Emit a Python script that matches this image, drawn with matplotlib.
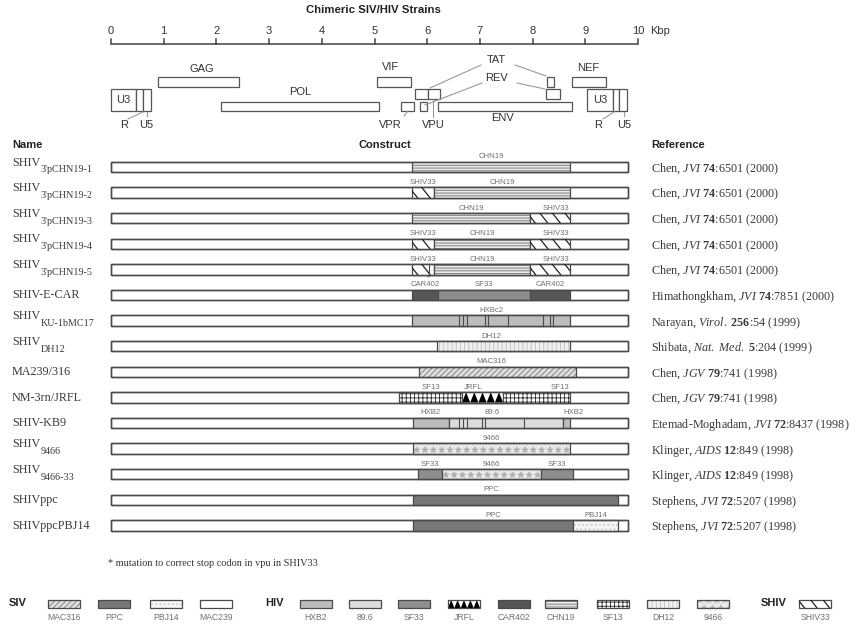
import matplotlib
matplotlib.use('Agg')
import numpy as np
import matplotlib.pyplot as plt
from matplotlib.patches import Rectangle, Polygon

plt.rcParams['hatch.linewidth'] = 0.6
plt.rcParams['mathtext.fontset'] = 'custom'
plt.rcParams['mathtext.rm'] = 'Liberation Serif'
plt.rcParams['mathtext.it'] = 'Liberation Serif:italic'
plt.rcParams['mathtext.bf'] = 'Liberation Serif:bold'

# ------------------------------------------------------------------ data
title = 'Chimeric SIV/HIV Strains'
axis_ticks = list(range(0, 11))
genome_length = 9.81

gene_names = ['U3', 'R', 'U5', 'GAG', 'POL', 'VIF', 'VPR', 'TAT', 'REV', 'VPU',
              'ENV', 'TAT', 'REV', 'NEF', 'U3', 'R', 'U5']
gene_start = [0.00, 0.47, 0.61, 0.89, 2.09, 5.05, 5.50, 5.77, 6.02, 5.86,
              6.20, 8.27, 8.25, 8.75, 9.03, 9.53, 9.64]
gene_end = [0.47, 0.61, 0.76, 2.43, 5.09, 5.69, 5.75, 6.02, 6.24, 6.00,
            8.75, 8.41, 8.52, 9.39, 9.53, 9.64, 9.79]
gene_level = ['ltr', 'ltr', 'ltr', 'a', 'c', 'a', 'c', 'b', 'b', 'c',
              'c', 'a', 'b', 'a', 'ltr', 'ltr', 'ltr']

names_main = ['SHIV', 'SHIV', 'SHIV', 'SHIV', 'SHIV', 'SHIV-E-CAR', 'SHIV', 'SHIV',
              'MA239/316', 'NM-3rn/JRFL', 'SHIV-KB9', 'SHIV', 'SHIV', 'SHIVppc',
              'SHIVppcPBJ14']
names_sub = ["3'pCHN19-1", "3'pCHN19-2", "3'pCHN19-3", "3'pCHN19-4", "3'pCHN19-5",
             '', 'KU-1bMC17', 'DH12', '', '', '', '9466', '9466-33', '', '']

row_segments = [
    [(5.71, 8.71, 'CHN19', 'CHN19')],
    [(5.71, 6.13, 'SHIV33', 'SHIV33'), (6.13, 8.71, 'CHN19', 'CHN19')],
    [(5.71, 7.95, 'CHN19', 'CHN19'), (7.95, 8.71, 'SHIV33', 'SHIV33')],
    [(5.71, 6.13, 'SHIV33', 'SHIV33'), (6.13, 7.95, 'CHN19', 'CHN19'),
     (7.95, 8.71, 'SHIV33', 'SHIV33')],
    [(5.71, 6.13, 'SHIV33', 'SHIV33'), (6.13, 7.95, 'CHN19', 'CHN19'),
     (7.95, 8.71, 'SHIV33', 'SHIV33')],
    [(5.71, 6.20, 'CAR402', 'CAR402'), (6.20, 7.95, 'SF33', 'SF33'),
     (7.95, 8.71, 'CAR402', 'CAR402')],
    [(5.71, 8.71, 'HXB2', 'HXBc2')],
    [(6.19, 8.71, 'DH12', 'DH12')],
    [(5.84, 8.82, 'MAC316', 'MAC316')],
    [(5.47, 6.66, 'SF13', 'SF13'), (6.66, 7.44, 'JRFL', 'JRFL'),
     (7.44, 8.71, 'SF13', 'SF13')],
    [(5.73, 6.41, 'HXB2', 'HXB2'), (6.41, 8.58, '89.6', '89.6'),
     (8.58, 8.71, 'HXB2', 'HXB2')],
    [(5.73, 8.71, '9466', '9466')],
    [(5.83, 6.28, 'SF33', 'SF33'), (6.28, 8.16, '9466', '9466'),
     (8.16, 8.77, 'SF33', 'SF33')],
    [(5.73, 9.62, 'PPC', 'PPC')],
    [(5.73, 8.77, 'PPC', 'PPC'), (8.77, 9.62, 'PBJ14', 'PBJ14')],
]

# internal recombination breakpoints (kbp) drawn as thin lines
row_breaks = {4: [6.03],
              6: [6.60, 6.67, 6.75, 7.10, 7.15, 7.53, 8.20, 8.33, 8.38],
              10: [6.60, 6.68, 6.76, 7.04, 7.10, 7.84]}
mutation_row = 4
mutation_pos = 6.03

references = [
    r"Chen, $\it{JVI}$ $\bf{74}$:6501 (2000)",
    r"Chen, $\it{JVI}$ $\bf{74}$:6501 (2000)",
    r"Chen, $\it{JVI}$ $\bf{74}$:6501 (2000)",
    r"Chen, $\it{JVI}$ $\bf{74}$:6501 (2000)",
    r"Chen, $\it{JVI}$ $\bf{74}$:6501 (2000)",
    r"Himathongkham, $\it{JVI}$ $\bf{74}$:7851 (2000)",
    r"Narayan, $\it{Virol.}$ $\bf{256}$:54 (1999)",
    r"Shibata, $\it{Nat.}$ $\it{Med.}$ $\bf{5}$:204 (1999)",
    r"Chen, $\it{JGV}$ $\bf{79}$:741 (1998)",
    r"Chen, $\it{JGV}$ $\bf{79}$:741 (1998)",
    r"Etemad-Moghadam, $\it{JVI}$ $\bf{72}$:8437 (1998)",
    r"Klinger, $\it{AIDS}$ $\bf{12}$:849 (1998)",
    r"Klinger, $\it{AIDS}$ $\bf{12}$:849 (1998)",
    r"Stephens, $\it{JVI}$ $\bf{72}$:5207 (1998)",
    r"Stephens, $\it{JVI}$ $\bf{72}$:5207 (1998)",
]

legend_groups = ['SIV', 'HIV', 'SHIV']
legend_siv = ['MAC316', 'PPC', 'PBJ14', 'MAC239']
legend_hiv = ['HXB2', '89.6', 'SF33', 'JRFL', 'CAR402', 'CHN19', 'SF13', 'DH12', '9466']
legend_shiv = ['SHIV33']

footnote = '* mutation to correct stop codon in vpu in SHIV33'

# ------------------------------------------------------------------ styles
styles = {
    'MAC316': dict(fc='#dedede', hatch='//////', hc='#7a7a7a'),
    'PPC': dict(fc='#777777'),
    'PBJ14': dict(fc='#f5f5f5', hatch='....', hc='#c4c4c4'),
    'MAC239': dict(fc='white'),
    'HXB2': dict(fc='#bcbcbc'),
    '89.6': dict(fc='#dddddd'),
    'SF33': dict(fc='#8e8e8e'),
    'JRFL': dict(fc='white'),
    'CAR402': dict(fc='#565656'),
    'CHN19': dict(fc='#ececec', hatch='------', hc='#6a6a6a'),
    'SF13': dict(fc='white', hatch='++++', hc='#2a2a2a'),
    'DH12': dict(fc='#f0f0f0', hatch='||||', hc='#bdbdbd'),
    '9466': dict(fc='#e8e8e8', hatch='**', hc='#b0b0b0'),
    'SHIV33': dict(fc='white'),
}

SANS = 'Liberation Sans'
SERIF = 'Liberation Serif'
EDGE = '#4a4a4a'

# layout helpers (pixel layout -> axis coordinates)
X0, KPX = 111.0, 52.7


def kx(px):
    return (px - X0) / KPX


W, H = 857, 630
fig = plt.figure(figsize=(W / 100, H / 100), dpi=100)
ax = fig.add_axes([0, 0, 1, 1])
ax.set_xlim(kx(0), kx(W))
ax.set_ylim(H, 0)
ax.axis('off')


def draw_box(x0, x1, y0, y1, strain, lw=0.9, ec=EDGE):
    st = styles[strain]
    base = Rectangle((x0, y0), x1 - x0, y1 - y0, facecolor=st['fc'],
                     edgecolor='none', lw=0)
    ax.add_patch(base)
    if 'hatch' in st:
        ax.add_patch(Rectangle((x0, y0), x1 - x0, y1 - y0, fill=False,
                               hatch=st['hatch'], edgecolor=st['hc'], lw=0))
    if strain == 'JRFL':
        n = 5
        w = (x1 - x0) / n
        for i in range(n):
            a = x0 + i * w
            ax.add_patch(Polygon([(a, y1), (a + w, y1), (a + w / 2, y0)],
                                 closed=True, facecolor='black', edgecolor='none'))
    if strain == 'SHIV33':
        step = 12.5 / KPX
        slant = 0.8 * (y1 - y0) / KPX
        for a in np.arange(x0 - slant + step * 0.45, x1, step):
            ln, = ax.plot([a, a + slant], [y0, y1], color='#222', lw=0.9)
            ln.set_clip_path(base)
    ax.add_patch(Rectangle((x0, y0), x1 - x0, y1 - y0, fill=False,
                           edgecolor=ec, lw=lw))


# ------------------------------------------------------------------ title + scale
ax.text(kx(373), 10, title, ha='center', va='center', fontsize=8.2,
        fontweight='bold', family=SANS, color='#222')
AY = 44
ax.plot([axis_ticks[0], axis_ticks[-1]], [AY, AY], color='#444', lw=1.1,
        solid_capstyle='butt')
for t in axis_ticks:
    ax.plot([t, t], [AY, AY - 5], color='#444', lw=1.1)
    ax.text(t, 31, str(t), ha='center', va='center', fontsize=8, family=SANS,
            color='#333')
ax.text(kx(650), 31, 'Kbp', ha='left', va='center', fontsize=8, family=SANS,
        color='#333')

# ------------------------------------------------------------------ genome map
levels = {'a': (77, 87), 'b': (89, 99), 'c': (102, 111), 'ltr': (89, 111)}
for s, e, lv in zip(gene_start, gene_end, gene_level):
    y0, y1 = levels[lv]
    ax.add_patch(Rectangle((s, y0), e - s, y1 - y0, facecolor='white',
                           edgecolor='#555', lw=0.9))

gene_label_pos = [('U3', 123, 100), ('R', 124, 125), ('U5', 146, 125),
                  ('GAG', 202, 69), ('POL', 300, 92), ('VIF', 391, 67),
                  ('VPR', 390, 125), ('TAT', 496, 60), ('REV', 497, 78),
                  ('VPU', 433, 125), ('ENV', 503, 118), ('NEF', 588, 68),
                  ('U3', 600, 100), ('R', 598, 125), ('U5', 624, 125)]
for txt, px, py in gene_label_pos:
    ax.text(kx(px), py, txt, ha='center', va='center', fontsize=8,
            family=SANS, color='#333')

leaders = [((128, 119), (143, 112)), ((147, 112), (147, 116)),
           ((404, 116), (408, 111)), ((481, 65), (430, 88)),
           ((515, 65), (546, 76)), ((482, 83), (425, 105)),
           ((517, 83), (545, 89)), ((433, 99), (433, 117)),
           ((603, 119), (614, 112)), ((624, 112), (624, 116))]
for (ax0, ay0), (ax1, ay1) in leaders:
    ax.plot([kx(ax0), kx(ax1)], [ay0, ay1], color='#9a9a9a', lw=0.8)

# ------------------------------------------------------------------ headers
ax.text(kx(12), 145, 'Name', ha='left', va='center', fontsize=8,
        fontweight='bold', family=SANS, color='#222')
ax.text(kx(385), 145, 'Construct', ha='center', va='center', fontsize=8,
        fontweight='bold', family=SANS, color='#222')
ax.text(kx(651), 145, 'Reference', ha='left', va='center', fontsize=8,
        fontweight='bold', family=SANS, color='#222')

# ------------------------------------------------------------------ rows
ROW_Y0, ROW_DY, HH = 167.0, 25.6, 5.2
label_x = {(6, 0): 7.21, (7, 0): 7.21, (8, 0): 7.21, (9, 1): 6.87,
           (9, 2): 8.52, (10, 1): 7.23, (10, 2): 8.77, (13, 0): 7.21,
           (2, 1): 8.44, (3, 2): 8.44, (4, 2): 8.44}
NAME_C = '#3a3a3a'
for i, segs in enumerate(row_segments):
    yc = ROW_Y0 + i * ROW_DY
    y0, y1 = yc - HH, yc + HH
    ax.add_patch(Rectangle((0, y0), genome_length, y1 - y0, facecolor='white',
                           edgecolor=EDGE, lw=1.0))
    for j, (s, e, strain, lab) in enumerate(segs):
        draw_box(s, e, y0, y1, strain)
        lx = label_x.get((i, j), (s + e) / 2)
        ax.text(lx, y0 - 5, lab, ha='center', va='center', fontsize=5.6,
                family=SANS, color='#707070')
    for b in row_breaks.get(i, []):
        ax.plot([b, b], [y0, y1], color=EDGE, lw=0.8)
    ax.add_patch(Rectangle((0, y0), genome_length, y1 - y0, fill=False,
                           edgecolor=EDGE, lw=1.0))
    if i == mutation_row:
        ax.text(mutation_pos, y1 + 3.5, '*', ha='center', va='center',
                fontsize=6, family=SANS, color='#555')

    # name
    if names_sub[i]:
        t = ax.text(kx(12), yc - 4.5, names_main[i], ha='left', va='center',
                    fontsize=8.7, family=SERIF, color=NAME_C)
        ax.annotate(names_sub[i], xy=(1, 0.5), xycoords=t, xytext=(0, -7.5),
                    textcoords='offset pixels', ha='left', va='center',
                    fontsize=7.3, family=SERIF, color=NAME_C)
    else:
        ax.text(kx(12), yc + 0.5, names_main[i], ha='left', va='center',
                fontsize=8.7, family=SERIF, color=NAME_C)
    # reference
    ax.text(kx(651), yc + 2, references[i], ha='left', va='center',
            fontsize=8.7, family=SERIF, color=NAME_C)

# footnote
ax.text(kx(108), 563, footnote, ha='left', va='center', fontsize=7.4,
        family=SERIF, color='#333')

# ------------------------------------------------------------------ legend
group_x = [18, 274, 774]
item_x = [[64, 114, 166, 216],
          [316, 365, 414, 464, 514, 561, 613, 663, 713],
          [815]]
for g, gx, names, xs in zip(legend_groups, group_x,
                            [legend_siv, legend_hiv, legend_shiv], item_x):
    ax.text(kx(gx), 603, g, ha='center', va='center', fontsize=8,
            fontweight='bold', family=SANS, color='#222')
    for nm, px in zip(names, xs):
        draw_box(kx(px - 16), kx(px + 16), 600, 608, nm, lw=0.9)
        ax.text(kx(px), 618, nm, ha='center', va='center', fontsize=6.2,
                family=SANS, color='#707070')

fig.savefig('out.png', dpi=100)
